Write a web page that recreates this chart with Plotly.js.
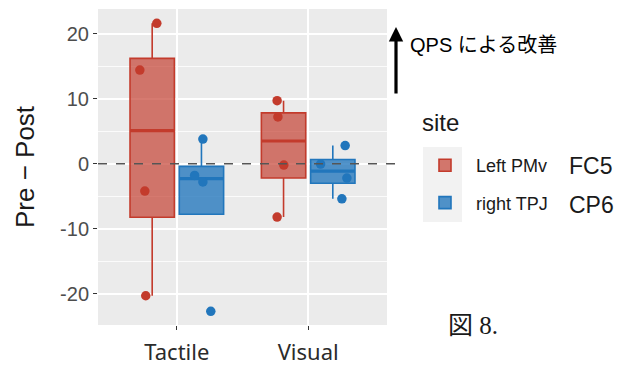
<!DOCTYPE html>
<html>
<head>
<meta charset="utf-8">
<script src="https://cdn.plot.ly/plotly-3.0.1.min.js"></script>
<style>
  html, body { margin: 0; padding: 0; background: #ffffff; }
  #chart { width: 629px; height: 367px; }
</style>
</head>
<body>
<div id="chart"></div>
<script>
// Conditions on the x axis and stimulation sites in the legend
const categories = ['Tactile', 'Visual'];
const sites = ['Left PMv', 'right TPJ'];
const electrodes = ['FC5', 'CP6'];

// Pre − Post change for each participant
const leftPMvTactile = [21.6, 14.4, -4.2, -20.3];
const leftPMvVisual = [9.7, 7.2, -0.2, -8.2];
const rightTPJTactile = [3.8, -1.8, -2.8, -22.7];
const rightTPJVisual = [-0.05, 2.8, -2.2, -5.4];

// Horizontal jitter of each participant's point (category units)
const jitterLeftTactile = [0.035, -0.094, -0.056, -0.049];
const jitterLeftVisual = [-0.049, -0.043, 0.002, -0.049];
const jitterRightTactile = [0.011, -0.052, 0.011, 0.071];
const jitterRightVisual = [-0.093, 0.094, 0.107, 0.069];

// Axis ticks
const yTickVals = [-20, -10, 0, 10, 20];
const yTickText = ['-20', '-10', '0', '10', '20'];

// Styling
const lineColors = ['#C33B2C', '#2176BC'];
const fillColors = ['rgba(195,59,44,0.68)', 'rgba(33,118,188,0.78)'];
const DODGE = 0.1875;
const BOX_W = 0.3375;

function quantile(sorted, p) {
  const h = (sorted.length - 1) * p;
  const lo = Math.floor(h), hi = Math.ceil(h);
  return sorted[lo] + (h - lo) * (sorted[hi] - sorted[lo]);
}

function boxStats(values) {
  const s = values.slice().sort((a, b) => a - b);
  const q1 = quantile(s, 0.25), med = quantile(s, 0.5), q3 = quantile(s, 0.75);
  const iqr = q3 - q1;
  const inside = s.filter(v => v >= q1 - 1.5 * iqr && v <= q3 + 1.5 * iqr);
  return {
    q1, med, q3,
    lo: Math.min(q1, inside[0]),
    hi: Math.max(q3, inside[inside.length - 1])
  };
}

const siteData = [
  [leftPMvTactile, leftPMvVisual],
  [rightTPJTactile, rightTPJVisual]
];
const siteJitter = [
  [jitterLeftTactile, jitterLeftVisual],
  [jitterRightTactile, jitterRightVisual]
];

const boxTraces = [], medianTraces = [], pointTraces = [];

sites.forEach((site, si) => {
  const offset = si === 0 ? -DODGE : DODGE;
  const xs = categories.map((c, ci) => ci + offset);
  const stats = siteData[si].map(boxStats);

  boxTraces.push({
    type: 'box',
    name: site,
    legendgroup: site,
    x: xs,
    q1: stats.map(s => s.q1),
    median: stats.map(s => s.med),
    q3: stats.map(s => s.q3),
    lowerfence: stats.map(s => s.lo),
    upperfence: stats.map(s => s.hi),
    width: BOX_W,
    whiskerwidth: 0,
    boxpoints: false,
    fillcolor: fillColors[si],
    line: { color: lineColors[si], width: 1.6 },
    hoverinfo: 'skip'
  });

  // Thicker median bar
  const mx = [], my = [];
  xs.forEach((x, i) => {
    mx.push(x - BOX_W / 2, x + BOX_W / 2, null);
    my.push(stats[i].med, stats[i].med, null);
  });
  medianTraces.push({
    type: 'scatter', mode: 'lines', x: mx, y: my,
    line: { color: lineColors[si], width: 3.2 },
    showlegend: false, hoverinfo: 'skip'
  });

  // Individual participants
  const px = [], py = [];
  siteData[si].forEach((vals, ci) => {
    vals.forEach((v, k) => {
      px.push(xs[ci] + siteJitter[si][ci][k]);
      py.push(v);
    });
  });
  pointTraces.push({
    type: 'scatter', mode: 'markers', x: px, y: py,
    marker: { color: lineColors[si], size: 9.5, line: { width: 0 } },
    showlegend: false, hoverinfo: 'skip'
  });
});

const W = 629, H = 367;
const M = { l: 98, r: 242, t: 9, b: 42 };
const pw = W - M.l - M.r, ph = H - M.t - M.b;
const px2paper = x => (x - M.l) / pw;
const py2paper = y => 1 - (y - M.t) / ph;

const layout = {
  width: W, height: H,
  margin: M,
  paper_bgcolor: '#ffffff',
  plot_bgcolor: '#EBEBEB',
  boxmode: 'overlay',
  showlegend: true,
  font: { family: 'Liberation Sans, Arial, sans-serif', color: '#1a1a1a' },
  xaxis: {
    range: [-0.6, 1.6],
    tickmode: 'array',
    tickvals: categories.map((c, i) => i),
    ticktext: categories,
    showgrid: true, gridcolor: '#ffffff', gridwidth: 1.6,
    zeroline: false,
    ticks: 'outside', ticklen: 4, tickwidth: 1.2, tickcolor: '#333333',
    ticklabelstandoff: 4,
    tickfont: { family: 'Noto Sans, sans-serif', size: 22, color: '#2b2b2b' },
    fixedrange: true
  },
  yaxis: {
    range: [-24.8, 23.8],
    tickmode: 'array',
    tickvals: yTickVals,
    ticktext: yTickText,
    showgrid: true, gridcolor: '#ffffff', gridwidth: 1.6,
    minor: { dtick: 5, tick0: 0, showgrid: true, gridcolor: '#ffffff', gridwidth: 0.8, ticks: '' },
    zeroline: false,
    ticks: 'outside', ticklen: 4, tickwidth: 1.2, tickcolor: '#333333',
    tickfont: { family: 'Liberation Sans, Arial, sans-serif', size: 20, color: '#4D4D4D' },
    title: { text: 'Pre − Post', font: { family: 'Liberation Sans, Arial, sans-serif', size: 26, color: '#1a1a1a' }, standoff: 17 },
    fixedrange: true
  },
  legend: {
    x: px2paper(414), y: py2paper(147), xanchor: 'left', yanchor: 'top',
    bgcolor: 'rgba(0,0,0,0)',
    font: { size: 18, color: '#1a1a1a' },
    traceorder: 'grouped',
    tracegroupgap: 11,
    itemwidth: 52
  },
  shapes: [
    // Reference line at zero change
    { type: 'line', xref: 'paper', yref: 'y', x0: 0, x1: px2paper(398), y0: 0, y1: 0,
      line: { color: '#555555', width: 1.4, dash: 'dash' }, layer: 'above' },
    // Legend key background
    { type: 'rect', xref: 'paper', yref: 'paper',
      x0: px2paper(423), x1: px2paper(462), y0: py2paper(222), y1: py2paper(147),
      fillcolor: '#F2F2F2', line: { width: 0 }, layer: 'below' }
  ],
  annotations: [
    { xref: 'paper', yref: 'paper', x: px2paper(396), y: py2paper(27),
      ax: 0, ay: 68, text: '', showarrow: true,
      arrowhead: 2, arrowsize: 0.9, arrowwidth: 3.2, arrowcolor: '#000000' },
    { xref: 'paper', yref: 'paper', x: px2paper(408), y: py2paper(45),
      xanchor: 'left', yanchor: 'middle', showarrow: false,
      text: 'QPS による改善',
      font: { family: 'Liberation Sans, Noto Sans CJK JP, sans-serif', size: 20, color: '#000000' } },
    { xref: 'paper', yref: 'paper', x: px2paper(420), y: py2paper(123),
      xanchor: 'left', yanchor: 'middle', showarrow: false, text: 'site',
      font: { size: 24, color: '#1a1a1a' } },
    { xref: 'paper', yref: 'paper', x: px2paper(567), y: py2paper(166),
      xanchor: 'left', yanchor: 'middle', showarrow: false, text: electrodes[0],
      font: { size: 23, color: '#1a1a1a' } },
    { xref: 'paper', yref: 'paper', x: px2paper(567), y: py2paper(205),
      xanchor: 'left', yanchor: 'middle', showarrow: false, text: electrodes[1],
      font: { size: 23, color: '#1a1a1a' } },
    { xref: 'paper', yref: 'paper', x: px2paper(446), y: py2paper(325),
      xanchor: 'left', yanchor: 'middle', showarrow: false, text: '図 8.',
      font: { family: 'Liberation Serif, DejaVu Serif, Noto Sans CJK JP, serif', size: 25, color: '#1a1a1a' } }
  ]
};

Plotly.newPlot('chart', [...boxTraces, ...medianTraces, ...pointTraces], layout,
  { staticPlot: true, displayModeBar: false });
</script>
</body>
</html>
